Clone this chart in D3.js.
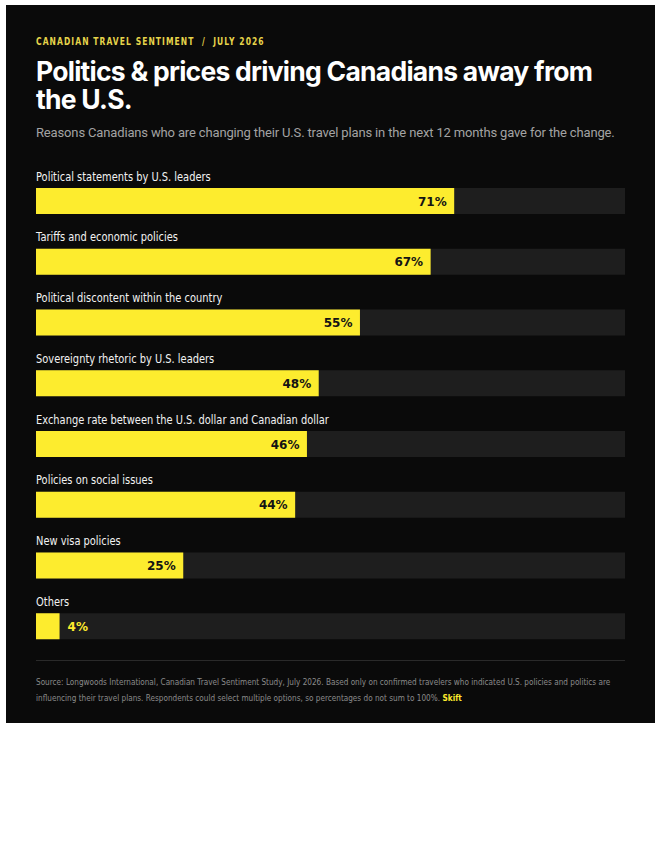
<!DOCTYPE html>
<html>
<head>
<meta charset="utf-8">
<script src="https://cdn.jsdelivr.net/npm/d3@7"></script>
<style>
  html, body { margin: 0; padding: 0; background: #ffffff; }
  svg { display: block; }
</style>
</head>
<body>
<div id="chart"></div>
<script>
const reasons = [
  'Political statements by U.S. leaders',
  'Tariffs and economic policies',
  'Political discontent within the country',
  'Sovereignty rhetoric by U.S. leaders',
  'Exchange rate between the U.S. dollar and Canadian dollar',
  'Policies on social issues',
  'New visa policies',
  'Others',
]
const shares = [71, 67, 55, 48, 46, 44, 25, 4]
const domainMax = 100

const eyebrow = 'CANADIAN TRAVEL SENTIMENT  /  JULY 2026'
const titleLines = ['Politics & prices driving Canadians away from', 'the U.S.']
const subtitle =
  'Reasons Canadians who are changing their U.S. travel plans in the next 12 months gave for the change.'
const sourceLines = [
  'Source: Longwoods International, Canadian Travel Sentiment Study, July 2026. Based only on confirmed travelers who indicated U.S. policies and politics are',
  'influencing their travel plans. Respondents could select multiple options, so percentages do not sum to 100%.',
]

const width = 660
const height = 854
const card = { x: 6, y: 5, w: 649, h: 718 }
const left = 36
const right = 625
const yellow = '#fdec2e'
const narrowFont = '"DejaVu Sans", sans-serif'
// no narrow face installed, so squeeze the regular one horizontally
const squeeze = 0.76
const sourceSqueeze = 0.77

const svg = d3
  .select('#chart')
  .append('svg')
  .attr('width', width)
  .attr('height', height)

svg
  .append('rect')
  .attr('x', card.x)
  .attr('y', card.y)
  .attr('width', card.w)
  .attr('height', card.h)
  .attr('fill', '#0a0a0a')

// header
svg
  .append('text')
  .attr('transform', `translate(${left}, 45) scale(${squeeze}, 1)`)
  .attr('fill', '#e6d44a')
  .attr('font-family', narrowFont)
  .attr('font-weight', 700)
  .attr('font-size', 10)
  .attr('letter-spacing', 1.4)
  .style('white-space', 'pre')
  .text(eyebrow)

svg
  .append('g')
  .selectAll('text')
  .data(titleLines)
  .join('text')
  .attr('x', left)
  .attr('y', (d, i) => 81 + i * 27.5)
  .attr('fill', '#ffffff')
  .attr('font-family', 'Inter, "Noto Sans", sans-serif')
  .attr('font-weight', 700)
  .attr('font-size', 26.5)
  .attr('letter-spacing', -0.75)
  .text(d => d)

svg
  .append('text')
  .attr('x', left)
  .attr('y', 137)
  .attr('fill', '#a3a3a3')
  .attr('font-family', 'Roboto, "Noto Sans", sans-serif')
  .attr('font-size', 13)
  .attr('letter-spacing', -0.15)
  .text(subtitle)

// scales
const xScale = d3.scaleLinear().domain([0, domainMax]).range([left, right])
const yScale = d3.scaleBand().domain(reasons).range([170, 656]).paddingInner(0)

const barHeight = 26
const barOffset = 18

const rows = svg
  .append('g')
  .selectAll('g.row')
  .data(reasons.map((r, i) => ({ reason: r, value: shares[i] })))
  .join('g')
  .attr('class', 'row')
  .attr('transform', d => `translate(0, ${yScale(d.reason)})`)

rows
  .append('text')
  .attr('transform', `translate(${left}, 10.5) scale(${squeeze}, 1)`)
  .attr('fill', '#f2f2f2')
  .attr('font-family', narrowFont)
  .attr('font-size', 13)
  .text(d => d.reason)

rows
  .append('rect')
  .attr('x', xScale(0))
  .attr('y', barOffset)
  .attr('width', xScale(domainMax) - xScale(0))
  .attr('height', barHeight)
  .attr('fill', '#1e1e1e')

rows
  .append('rect')
  .attr('x', xScale(0))
  .attr('y', barOffset)
  .attr('width', d => xScale(d.value) - xScale(0))
  .attr('height', barHeight)
  .attr('fill', yellow)

rows
  .append('text')
  .attr('x', d => (d.value < 10 ? xScale(d.value) + 8 : xScale(d.value) - 7.5))
  .attr('y', barOffset + barHeight / 2 + 4.5)
  .attr('text-anchor', d => (d.value < 10 ? 'start' : 'end'))
  .attr('fill', d => (d.value < 10 ? yellow : '#141414'))
  .attr('font-family', '"DejaVu Sans", sans-serif')
  .attr('font-weight', 700)
  .attr('font-size', 12)
  .text(d => `${d.value}%`)

// footer
svg
  .append('line')
  .attr('x1', left)
  .attr('x2', right)
  .attr('y1', 660.5)
  .attr('y2', 660.5)
  .attr('stroke', '#2a2a2a')

const source = svg
  .append('g')
  .selectAll('text')
  .data(sourceLines)
  .join('text')
  .attr('transform', (d, i) => `translate(${left}, ${685 + i * 16}) scale(${sourceSqueeze}, 1)`)
  .attr('fill', '#8a8a8a')
  .attr('font-family', narrowFont)
  .attr('font-size', 9.5)
  .text(d => d)

source
  .filter((d, i) => i === sourceLines.length - 1)
  .append('tspan')
  .attr('fill', yellow)
  .attr('font-weight', 700)
  .text(' Skift')
</script>
</body>
</html>
